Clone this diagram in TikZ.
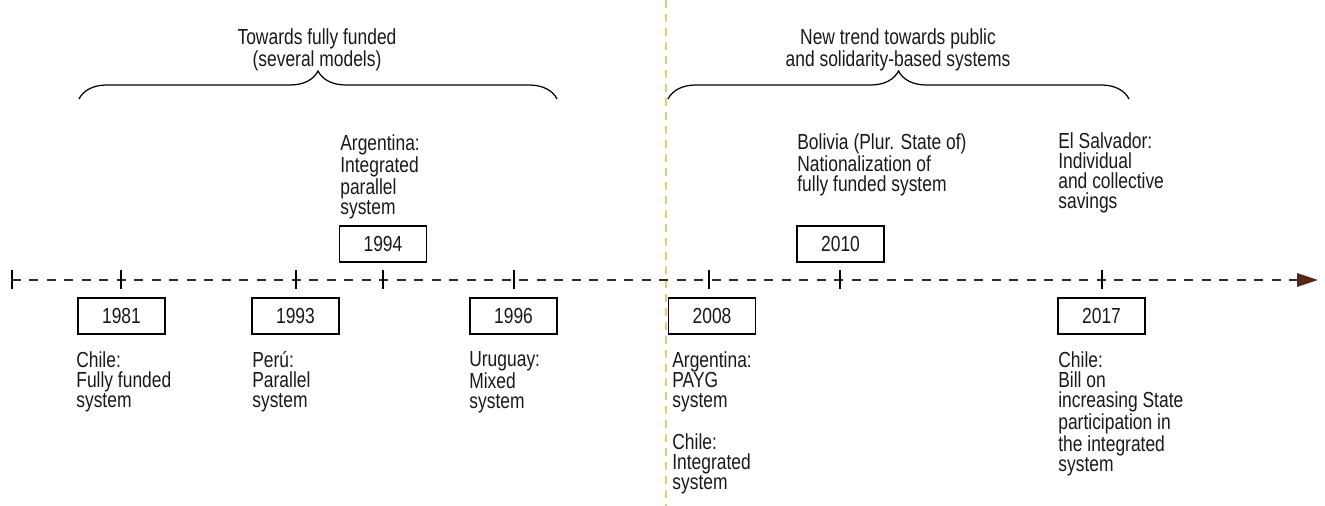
\documentclass[tikz,border=0pt]{standalone}
\usepackage{fontspec}
\setmainfont{Liberation Sans}[FakeStretch=0.8]
\usepackage{tikz}
\usetikzlibrary{arrows.meta,positioning,decorations.pathreplacing}
\definecolor{axisgray}{RGB}{45,45,45}
\definecolor{tipbrown}{RGB}{88,38,24}
\definecolor{splitorange}{RGB}{247,196,115}
\definecolor{inkgray}{RGB}{25,25,25}

\begin{document}
\begin{tikzpicture}[x=0.02cm,y=-0.02cm,>=Latex,
  font=\fontsize{12.4}{11.4}\selectfont,text=inkgray,
  yearbox/.style={draw,line width=0.8pt,minimum width=1.74cm,minimum height=0.72cm,inner sep=0pt},
  note/.style={align=left,anchor=north west,inner sep=0pt},
  headline/.style={align=center,anchor=north,inner sep=0pt},
  ticmark/.style={line width=0.9pt},
  bracket/.style={decorate,decoration={brace,amplitude=0.56cm},line width=0.7pt}]
\useasboundingbox (0,0) rectangle (1325,506);

% split between the two periods
\coordinate (splittop) at (666,0);
\coordinate (splitbot) at (666,506);
\draw[splitorange,line width=1pt,dash pattern=on 0.16cm off 0.12cm] (splittop) -- (splitbot);

% time axis
\coordinate (start) at (12,280);
\coordinate (end) at (1318,280);
\draw[axisgray,line width=0.8pt,dash pattern=on 0.18cm off 0.17cm,
  -{Triangle[length=0.42cm,width=0.27cm,color=tipbrown]}] (start) -- (end);
\foreach \x in {12,121,296,383,514,709,840,1102}
  \draw[ticmark] (\x,270) -- (\x,289);

% periods
\coordinate (p1l) at (79,99);
\coordinate (p1r) at (557,99);
\coordinate (p2l) at (668,99);
\coordinate (p2r) at (1129,99);
\draw[bracket] (p1l) -- (p1r);
\draw[bracket] (p2l) -- (p2r);
\node[headline] (h1) at (317,28) {Towards fully funded\\(several models)};
\node[headline] (h2) at (898,28) {New trend towards public\\and solidarity-based systems};

% years
\node[yearbox] (y1981) at (121.5,316) {1981};
\node[yearbox] (y1993) at (295.5,316) {1993};
\node[yearbox] (y1994) at (383,244) {1994};
\node[yearbox] (y1996) at (513.5,316) {1996};
\node[yearbox] (y2008) at (712,316) {2008};
\node[yearbox] (y2010) at (840.5,244) {2010};
\node[yearbox] (y2017) at (1101.5,316) {2017};

% reforms
\node[note] (n1981) at (76,351) {Chile:\\Fully funded\\system};
\node[note] (n1993) at (252,351) {Perú:\\Parallel\\system};
\node[note] (n1994) at (340,134) {Argentina:\\Integrated\\parallel\\system};
\node[note] (n1996) at (469,351) {Uruguay:\\Mixed\\system};
\node[note] (n2008a) at (672,351) {Argentina:\\PAYG\\system};
\node[note] (n2008b) at (672,433) {Chile:\\Integrated\\system};
\node[note] (n2010) at (797,133) {Bolivia (Plur. State of)\\Nationalization of\\fully funded system};
\node[note] (n2017a) at (1058,132) {El Salvador:\\Individual\\and collective\\savings};
\node[note] (n2017b) at (1058,351) {Chile:\\Bill on\\increasing State\\participation in\\the integrated\\system};
\end{tikzpicture}
\end{document}
